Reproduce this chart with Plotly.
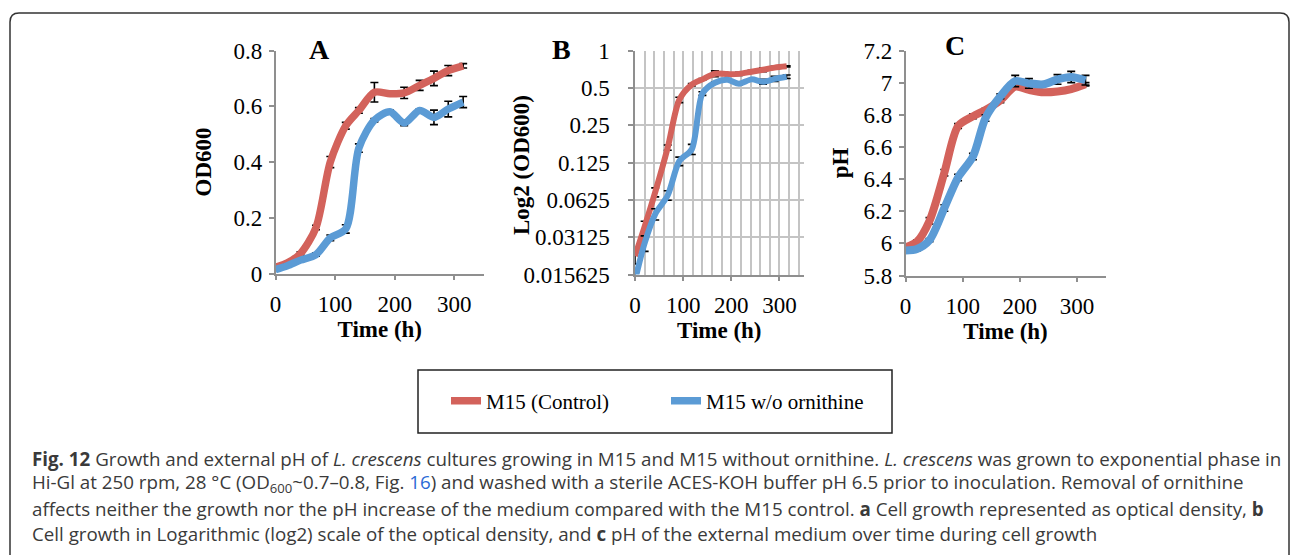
import plotly.graph_objects as go

# ---------------- data ----------------
time_h = [0, 20, 42, 68, 92, 118, 140, 166, 192, 216, 242, 266, 290, 315]

od_control = [0.022, 0.038, 0.072, 0.165, 0.40, 0.53, 0.585, 0.65, 0.645, 0.648, 0.675, 0.70, 0.728, 0.745]
od_control_err = [0.003, 0.004, 0.006, 0.008, 0.02, 0.012, 0.01, 0.035, 0.006, 0.02, 0.018, 0.026, 0.018, 0.008]
od_no_orn = [0.014, 0.028, 0.048, 0.068, 0.128, 0.16, 0.45, 0.55, 0.58, 0.54, 0.585, 0.56, 0.59, 0.615]
od_no_orn_err = [0.003, 0.004, 0.005, 0.006, 0.01, 0.015, 0.015, 0.006, 0.006, 0.01, 0.006, 0.026, 0.028, 0.02]

ph_control = [5.975, 6.01, 6.14, 6.44, 6.73, 6.79, 6.83, 6.89, 6.975, 6.955, 6.94, 6.945, 6.96, 6.99]
ph_control_err = [0.015, 0.01, 0.02, 0.02, 0.015, 0.015, 0.01, 0.015, 0.01, 0.01, 0.015, 0.01, 0.01, 0.01]
ph_no_orn = [5.955, 5.965, 6.02, 6.22, 6.41, 6.54, 6.78, 6.915, 7.01, 6.995, 6.99, 7.02, 7.035, 7.015]
ph_no_orn_err = [0.01, 0.01, 0.01, 0.02, 0.02, 0.02, 0.02, 0.015, 0.035, 0.03, 0.01, 0.03, 0.035, 0.03]

series_names = ["M15 (Control)", "M15 w/o ornithine"]
x_ticks = [0, 100, 200, 300]
log2_tickvals = [1, 0.5, 0.25, 0.125, 0.0625, 0.03125, 0.015625]
log2_ticktext = ["1", "0.5", "0.25", "0.125", "0.0625", "0.03125", "0.015625"]
panel_letters = ["A", "B", "C"]
y_titles = ["OD600", "Log2 (OD600)", "pH"]
x_title = "Time (h)"

caption_lines = [
    "<b>Fig. 12</b> Growth and external pH of <i>L. crescens</i> cultures growing in M15 and M15 without ornithine. "
    "<i>L. crescens</i> was grown to exponential phase in",
    "Hi-Gl at 250 rpm, 28 °C (OD<sub>600</sub>~0.7–0.8, Fig. <span style='color:#2a6ad6'>16</span>) and washed with a "
    "sterile ACES-KOH buffer pH 6.5 prior to inoculation. Removal of ornithine",
    "affects neither the growth nor the pH increase of the medium compared with the M15 control. "
    "<b>a</b> Cell growth represented as optical density, <b>b</b>",
    "Cell growth in Logarithmic (log2) scale of the optical density, and <b>c</b> pH of the external medium "
    "over time during cell growth",
]

# ---------------- style ----------------
W, H = 1290, 555
RED = "#D3625B"
BLUE = "#5B9BD5"
AXC = "#8f8f8f"
GRID = "#c4c4c4"
SERIF = "Liberation Serif, Times New Roman, serif"
FS = 23


def px(x):
    return x / W


def py(y):
    return 1 - y / H


fig = go.Figure()

panels = [
    ("x", "y", od_control, od_control_err, od_no_orn, od_no_orn_err, 7.5),
    ("x2", "y2", od_control, od_control_err, od_no_orn, od_no_orn_err, 6),
    ("x3", "y3", ph_control, ph_control_err, ph_no_orn, ph_no_orn_err, 8),
]
for i, (xa, ya, r, re, b, be, lw) in enumerate(panels):
    for name, vals, errs, col, grp in ((series_names[0], r, re, RED, "c"), (series_names[1], b, be, BLUE, "n")):
        fig.add_trace(go.Scatter(
            x=time_h, y=vals, mode="lines", name=name, legendgroup=grp,
            showlegend=(i == 0),
            line=dict(color=col, width=lw, shape="spline", smoothing=0.8),
            error_y=dict(type="data", array=errs, visible=True, color="black", thickness=1.6, width=4),
            xaxis=xa, yaxis=ya,
        ))

title_font = dict(family=SERIF, size=FS, color="black")
common_x = dict(range=[0, 350], tickvals=x_ticks, ticks="outside", ticklen=5, tickcolor=AXC, tickwidth=1.5,
                showline=True, linecolor=AXC, linewidth=1.5, zeroline=False, showgrid=False, automargin=False,
                tickfont=dict(family=SERIF, size=FS, color="black"), ticklabelstandoff=4,
                title=dict(text="<b>" + x_title + "</b>", font=title_font, standoff=2))
common_y = dict(ticks="outside", ticklen=5, tickcolor=AXC, tickwidth=1.5, automargin=False,
                showline=True, linecolor=AXC, linewidth=1.5, zeroline=False, showgrid=False,
                tickfont=dict(family=SERIF, size=FS, color="black"))

fig.update_layout(
    width=W, height=H, margin=dict(l=0, r=0, t=0, b=0, pad=0, autoexpand=False),
    paper_bgcolor="white", plot_bgcolor="white",
    xaxis=dict(domain=[px(275.5), px(484)], anchor="y", **common_x),
    yaxis=dict(domain=[py(273.5), py(50.5)], anchor="x", range=[0, 0.8], dtick=0.2, ticklabelstandoff=2,
               title=dict(text="<b>" + y_titles[0] + "</b>", font=title_font, standoff=15),
               **common_y),
    xaxis2=dict(domain=[px(635), px(803.5)], anchor="y2",
                minor=dict(dtick=20, showgrid=True, gridcolor=GRID, gridwidth=1.5, ticks=""),
                **{**common_x, "showgrid": True, "gridcolor": GRID, "gridwidth": 1.5}),
    yaxis2=dict(domain=[py(274.5), py(50.5)], anchor="x2", type="log", ticklabelstandoff=14,
                range=[-1.80618, 0], tickvals=log2_tickvals, ticktext=log2_ticktext,
                **{**common_y, "showgrid": True, "gridcolor": GRID, "gridwidth": 1.5}),
    xaxis3=dict(domain=[px(905.5), px(1105.5)], anchor="y3", **common_x),
    yaxis3=dict(domain=[py(275.5), py(50.5)], anchor="x3", range=[5.8, 7.2], dtick=0.2, ticklabelstandoff=2,
                title=dict(text="<b>" + y_titles[2] + "</b>", font=title_font, standoff=8),
                **common_y),
    legend=dict(orientation="h", x=px(446), xanchor="left", y=py(401), yanchor="middle",
                font=dict(family=SERIF, size=21, color="black"), bgcolor="rgba(0,0,0,0)",
                borderwidth=0, entrywidth=175, entrywidthmode="pixels"),
)

# Log2 axis title (placed between the long tick labels, as in the original)
fig.add_annotation(text="<b>" + y_titles[1] + "</b>", x=px(521), y=py(165), xref="paper", yref="paper",
                   showarrow=False, textangle=-90, font=title_font, xanchor="center", yanchor="middle")

# panel letters
for letter, (lx, ly) in zip(panel_letters, [(319, 50), (561, 50), (955, 45)]):
    fig.add_annotation(text="<b>" + letter + "</b>", x=px(lx), y=py(ly), xref="paper", yref="paper",
                       showarrow=False, font=dict(family=SERIF, size=28, color="black"),
                       xanchor="center", yanchor="middle")

# legend box
fig.add_shape(type="rect", xref="paper", yref="paper", x0=px(418), x1=px(892), y0=py(433), y1=py(370),
              line=dict(color="#222222", width=1.5), fillcolor="rgba(0,0,0,0)")

# rounded outer frame
x0, x1, yt, yb = px(10), px(1289), py(13), py(600)
rx, ry = 9 / W, 9 / H
frame = (f"M {x0},{yb} L {x0},{yt - ry} Q {x0},{yt} {x0 + rx},{yt} "
         f"L {x1 - rx},{yt} Q {x1},{yt} {x1},{yt - ry} L {x1},{yb}")
fig.add_shape(type="path", path=frame, xref="paper", yref="paper", line=dict(color="#333333", width=1.5))

# caption
for k, line in enumerate(caption_lines):
    fig.add_annotation(text=line, x=px(30), y=py(458 + 25 * k), xref="paper", yref="paper",
                       showarrow=False, xanchor="left", yanchor="middle", align="left",
                       font=dict(family="Open Sans, Noto Sans, sans-serif", size=18.75, color="#3a3a3a"))

fig.write_html("out.html",
               post_script="document.body.style.margin='0px';document.body.style.overflow='hidden';")
